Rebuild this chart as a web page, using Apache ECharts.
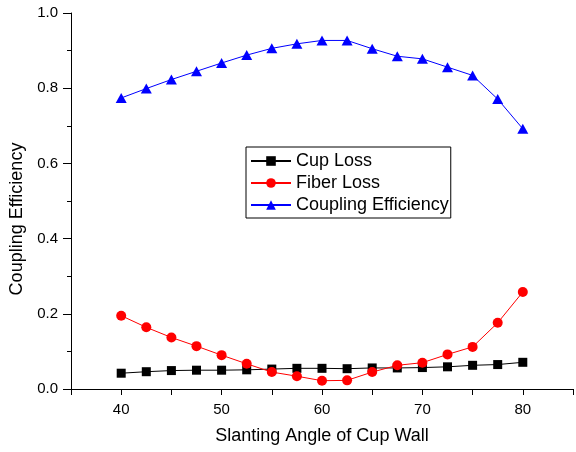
<!DOCTYPE html>
<html lang="en">
<head>
    <meta charset="UTF-8">
    <title>Coupling Efficiency</title>
    <script src="https://cdn.jsdelivr.net/npm/echarts@6/dist/echarts.min.js"></script>
    <style>
        body { margin: 0; background: #fff; }
    </style>
</head>
<body>
    <div id="main" style="width: 576px;height:452px;"></div>
    <script type="text/javascript">
        // slanting angle of the cup wall (degrees)
        const angles = [40, 42.5, 45, 47.5, 50, 52.5, 55, 57.5, 60, 62.5, 65, 67.5, 70, 72.5, 75, 77.5, 80]

        const cupLoss = [0.042, 0.046, 0.049, 0.050, 0.050, 0.051, 0.053, 0.055, 0.055, 0.054, 0.056, 0.056, 0.057, 0.059, 0.063, 0.065, 0.071]
        const fiberLoss = [0.195, 0.164, 0.137, 0.114, 0.090, 0.067, 0.045, 0.034, 0.022, 0.023, 0.045, 0.063, 0.070, 0.092, 0.112, 0.176, 0.258]
        const couplingEff = [0.774, 0.799, 0.823, 0.845, 0.867, 0.888, 0.906, 0.918, 0.927, 0.927, 0.905, 0.885, 0.878, 0.856, 0.834, 0.771, 0.692]

        const xLabels = [40, 50, 60, 70, 80]

        const font = '"Liberation Sans", Arial, sans-serif'

        // pair up x and y
        const pairs = (ys) => angles.map((a, i) => [a, ys[i]])

        let options = {
            animation: false,
            backgroundColor: '#fff',
            grid: { left: 68, right: -1, top: 13, bottom: 63 },
            legend: {
                orient: 'vertical',
                left: 246,
                top: 147,
                padding: [5, 2, 4, 4],
                itemGap: 4,
                itemWidth: 40,
                itemHeight: 12,
                borderColor: '#000',
                borderWidth: 1,
                textStyle: { color: '#000', fontSize: 18, fontFamily: font },
                data: ['Cup Loss', 'Fiber Loss', 'Coupling Efficiency']
            },
            xAxis: {
                type: 'value',
                min: 35,
                max: 85,
                interval: 5,
                name: 'Slanting Angle of Cup Wall',
                nameLocation: 'middle',
                nameGap: 38,
                nameTextStyle: { color: '#000', fontSize: 18, fontFamily: font },
                splitLine: { show: false },
                axisLine: { lineStyle: { color: '#000', width: 1 } },
                axisTick: { length: 6, lineStyle: { color: '#000' } },
                axisLabel: {
                    color: '#000',
                    fontSize: 15,
                    fontFamily: font,
                    margin: 13,
                    formatter: (v) => xLabels.includes(v) ? String(v) : ''
                }
            },
            yAxis: {
                type: 'value',
                min: 0,
                max: 1,
                interval: 0.2,
                name: 'Coupling Efficiency',
                nameLocation: 'middle',
                nameGap: 45,
                nameTextStyle: { color: '#000', fontSize: 18, fontFamily: font, padding: [0, 36, 0, 0] },
                splitLine: { show: false },
                axisLine: { show: true, lineStyle: { color: '#000', width: 1 } },
                axisTick: { show: true, length: 8, lineStyle: { color: '#000' } },
                minorTick: { show: true, splitNumber: 2, length: 4, lineStyle: { color: '#000' } },
                axisLabel: {
                    color: '#000',
                    fontSize: 15,
                    fontFamily: font,
                    margin: 13,
                    formatter: (v) => v.toFixed(1)
                }
            },
            series: [
                {
                    name: 'Cup Loss',
                    type: 'line',
                    data: pairs(cupLoss),
                    symbol: 'rect',
                    symbolSize: 9,
                    color: '#000',
                    lineStyle: { width: 1, color: '#000' },
                    itemStyle: { color: '#000' }
                },
                {
                    name: 'Fiber Loss',
                    type: 'line',
                    data: pairs(fiberLoss),
                    symbol: 'circle',
                    symbolSize: 10,
                    color: '#ff0000',
                    lineStyle: { width: 1, color: '#ff0000' },
                    itemStyle: { color: '#ff0000' }
                },
                {
                    name: 'Coupling Efficiency',
                    type: 'line',
                    data: pairs(couplingEff),
                    symbol: 'triangle',
                    symbolSize: [11, 10],
                    color: '#0000ff',
                    lineStyle: { width: 1, color: '#0000ff' },
                    itemStyle: { color: '#0000ff' }
                }
            ]
        };

        let myChart = echarts.init(document.getElementById('main'));
        myChart.setOption(options);
    </script>
</body>
</html>
